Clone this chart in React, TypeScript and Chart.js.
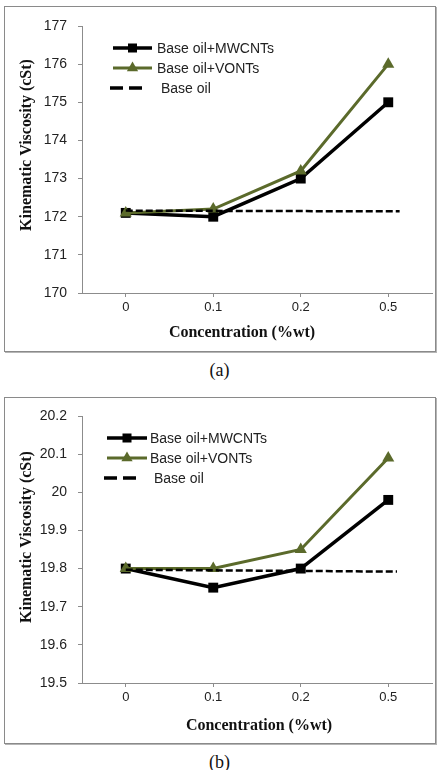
import React, { useEffect, useRef } from 'react';
import { Chart, registerables } from 'chart.js';

Chart.register(...registerables);

// ---------- data ----------
const categories = ['0', '0.1', '0.2', '0.5'];
const seriesNames = ['Base oil+MWCNTs', 'Base oil+VONTs', 'Base oil'];

// panel (a)
const mwcntsA = [172.1, 172.0, 173.0, 175.0];
const vontsA = [172.1, 172.2, 173.2, 176.0];
const baseOilA = [172.16, 172.14];
const baseOilXA = [0, 3.13];
const yRangeA = [170, 177, 1];

// panel (b)
const mwcntsB = [19.8, 19.75, 19.8, 19.98];
const vontsB = [19.8, 19.8, 19.85, 20.09];
const baseOilB = [19.797, 19.792];
const baseOilXB = [0, 3.1];
const yRangeB = [19.5, 20.2, 0.1];

const xTitle = 'Concentration (%wt)';
const yTitle = 'Kinematic Viscosity (cSt)';

// ---------- styles ----------
const OLIVE = '#5b6a2b';
const AXIS = '#8c8c8c';
const TEXT = '#222222';
const SANS = "'Liberation Sans', Arial, sans-serif";
const SERIF = "'Liberation Serif', 'Times New Roman', serif";

type Deco = {
  legendX0: number; legendX1: number; textX: number; legendY: number;
  xTitleX: number; xTitleY: number; yTitleX: number; yTitleY: number;
};

type PanelProps = {
  top: number;
  mw: number[]; vo: number[]; base: number[]; baseX: number[];
  yRange: number[];
  deco: Deco;
};

const W = 444;
const H = 360;

function Panel({ top, mw, vo, base, baseX, yRange, deco }: PanelProps) {
  const ref = useRef<HTMLCanvasElement | null>(null);

  useEffect(() => {
    const canvas = ref.current;
    if (!canvas) return;

    const decoPlugin = {
      id: 'deco',
      afterDraw(chart: any) {
        const ctx = chart.ctx as CanvasRenderingContext2D;
        const ds = chart.data.datasets;
        ctx.save();
        // legend
        for (let i = 0; i < 3; i++) {
          const d = ds[i];
          const y = deco.legendY + i * 20;
          ctx.strokeStyle = d.borderColor;
          ctx.beginPath();
          if (i === 2) {
            ctx.lineWidth = 3.5;
            ctx.setLineDash([13, 6]);
            ctx.moveTo(deco.legendX0 - 3, y);
            ctx.lineTo(deco.legendX1 - 9, y);
          } else {
            ctx.lineWidth = d.borderWidth;
            ctx.setLineDash([]);
            ctx.moveTo(deco.legendX0, y);
            ctx.lineTo(deco.legendX1, y);
          }
          ctx.stroke();
          ctx.setLineDash([]);
          const cx = (deco.legendX0 + deco.legendX1) / 2;
          ctx.fillStyle = d.borderColor;
          if (d.pointStyle === 'rect') {
            ctx.fillRect(cx - 4.5, y - 4.5, 9, 9);
          } else if (d.pointStyle === 'triangle') {
            const r = 6.5;
            ctx.beginPath();
            ctx.moveTo(cx, y - r);
            ctx.lineTo(cx + r * 0.866, y + r / 2);
            ctx.lineTo(cx - r * 0.866, y + r / 2);
            ctx.closePath();
            ctx.fill();
          }
          ctx.fillStyle = TEXT;
          ctx.font = `14px ${SANS}`;
          ctx.textBaseline = 'middle';
          ctx.textAlign = 'left';
          ctx.fillText(seriesNames[i], deco.textX + (i === 2 ? 4 : 0), y + 1);
        }
        // axis titles
        ctx.fillStyle = '#111';
        ctx.font = `bold 16px ${SERIF}`;
        ctx.textAlign = 'center';
        ctx.textBaseline = 'middle';
        ctx.fillText(xTitle, deco.xTitleX, deco.xTitleY);
        ctx.save();
        ctx.translate(deco.yTitleX, deco.yTitleY);
        ctx.rotate(-Math.PI / 2);
        ctx.fillText(yTitle, 0, 0);
        ctx.restore();
        ctx.restore();
      },
    };

    const chart = new Chart(canvas, {
      type: 'line',
      data: {
        labels: categories,
        datasets: [
          {
            label: seriesNames[0],
            data: mw,
            borderColor: '#000000',
            backgroundColor: '#000000',
            borderWidth: 3.5,
            pointStyle: 'rect',
            pointRadius: 7,
            pointBackgroundColor: '#000000',
            pointBorderColor: '#000000',
            pointBorderWidth: 0,
            tension: 0,
            order: 2,
          } as any,
          {
            label: seriesNames[1],
            data: vo,
            borderColor: OLIVE,
            backgroundColor: OLIVE,
            borderWidth: 3,
            pointStyle: 'triangle',
            pointRadius: 7,
            pointBackgroundColor: OLIVE,
            pointBorderColor: OLIVE,
            pointBorderWidth: 0,
            tension: 0,
            order: 1,
          } as any,
          {
            label: seriesNames[2],
            data: baseX.map((x, i) => ({ x, y: base[i] })),
            xAxisID: 'x2',
            borderColor: '#000000',
            backgroundColor: '#000000',
            borderWidth: 2.5,
            borderDash: [7, 3],
            pointRadius: 0,
            tension: 0,
            order: 0,
          } as any,
        ],
      },
      options: {
        animation: false,
        responsive: false,
        devicePixelRatio: 1,
        layout: { padding: { left: 0, top: 26, right: 12, bottom: 0 } },
        plugins: {
          legend: { display: false },
          tooltip: { enabled: false },
          title: { display: false },
        },
        scales: {
          x: {
            type: 'category',
            offset: true,
            grid: {
              display: true,
              drawOnChartArea: false,
              drawTicks: true,
              tickLength: 4,
              color: AXIS,
              offset: false,
            },
            border: { display: true, color: AXIS, width: 1 },
            ticks: {
              color: TEXT,
              font: { family: SANS, size: 13 },
              padding: 3,
              maxRotation: 0,
            },
            afterFit: (s: any) => { s.height = H - 293; },
          },
          x2: {
            type: 'linear',
            display: false,
            min: -0.5,
            max: 3.5,
            offset: false,
          },
          y: {
            type: 'linear',
            min: yRange[0],
            max: yRange[1],
            grid: {
              display: true,
              drawOnChartArea: false,
              drawTicks: true,
              tickLength: 4,
              color: AXIS,
            },
            border: { display: true, color: AXIS, width: 1 },
            ticks: {
              stepSize: yRange[2],
              color: TEXT,
              font: { family: SANS, size: 14 },
              padding: 11,
              callback: (v: any) => String(Number(Number(v).toFixed(2))),
            },
            afterFit: (s: any) => { s.width = 82; },
          },
        },
      } as any,
      plugins: [decoPlugin],
    });
    return () => chart.destroy();
  }, []);

  return (
    <canvas
      ref={ref}
      width={W}
      height={H}
      style={{ position: 'absolute', left: 0, top, width: W, height: H }}
    />
  );
}

const boxStyle = (top: number, height: number): React.CSSProperties => ({
  position: 'absolute',
  left: 4,
  top,
  width: 432,
  height,
  boxSizing: 'border-box',
  border: '1px solid #8a8a8a',
  boxShadow: '1px 1px 0 #b5b5b5',
  background: '#fff',
});

const captionStyle = (top: number): React.CSSProperties => ({
  position: 'absolute',
  left: 0,
  top,
  width: 439,
  height: 20,
  lineHeight: '20px',
  textAlign: 'center',
  fontFamily: SERIF,
  fontSize: 18,
  color: '#111',
});

export default function App() {
  return (
    <div style={{ position: 'absolute', left: 0, top: 0, width: 444, height: 770, background: '#fff', overflow: 'hidden' }}>
      <div style={boxStyle(6, 346)} />
      <div style={boxStyle(397, 347)} />
      <Panel
        top={0}
        mw={mwcntsA}
        vo={vontsA}
        base={baseOilA}
        baseX={baseOilXA}
        yRange={yRangeA}
        deco={{
          legendX0: 113, legendX1: 152, textX: 157, legendY: 48,
          xTitleX: 242, xTitleY: 333, yTitleX: 27, yTitleY: 145,
        }}
      />
      <Panel
        top={390}
        mw={mwcntsB}
        vo={vontsB}
        base={baseOilB}
        baseX={baseOilXB}
        yRange={yRangeB}
        deco={{
          legendX0: 107, legendX1: 147, textX: 150, legendY: 48,
          xTitleX: 259, xTitleY: 336, yTitleX: 27, yTitleY: 147,
        }}
      />
      <div style={captionStyle(360)}>(a)</div>
      <div style={captionStyle(752)}>(b)</div>
    </div>
  );
}
